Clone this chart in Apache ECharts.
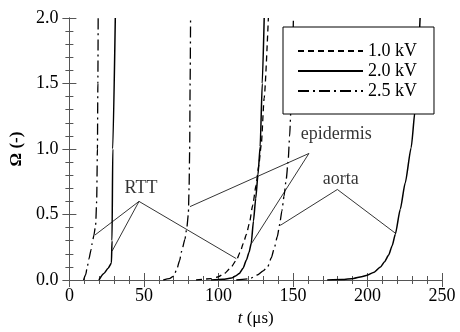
<!DOCTYPE html>
<html>
<head>
<meta charset="utf-8">
<script src="https://cdn.jsdelivr.net/npm/echarts@6/dist/echarts.min.js"></script>
<style>
  html, body { margin: 0; padding: 0; background: #fff; }
  #chart { width: 460px; height: 332px; }
</style>
</head>
<body>
<div id="chart"></div>
<script>
// x ticks and y ticks
const tTicks = [0, 50, 100, 150, 200, 250]
const omegaTicks = [0.0, 0.5, 1.0, 1.5, 2.0]

const voltages = ['1.0 kV', '2.0 kV', '2.5 kV']

// [t (us), omega]
const rtt25 = [[9.5, 0], [10.9, 0.04], [12, 0.1], [13.1, 0.16], [14.5, 0.23], [15.3, 0.28], [16.4, 0.34], [17.6, 0.42], [18.3, 0.6], [18.8, 1.0], [19.1, 1.5], [19.3, 2.0]]
const rtt20 = [[19.8, 0], [23.1, 0.05], [26, 0.09], [28.2, 0.13], [28.6, 0.3], [29.1, 1.0], [30.8, 2.0]]
const rtt10 = [[85, 0], [95, 0.01], [100, 0.025], [104, 0.05], [108, 0.09], [112, 0.15], [114.5, 0.21], [116.7, 0.28], [118.8, 0.35], [120.7, 0.43], [123, 0.57], [125.2, 0.72], [127, 0.87], [128.7, 1.03], [130.7, 1.39], [133.5, 2.0]]
const epi25 = [[63, 0], [67, 0.01], [70, 0.03], [72, 0.08], [74, 0.15], [75.3, 0.22], [77.5, 0.31], [78.7, 0.39], [79.8, 0.5], [80.3, 0.7], [80.7, 1.0], [81, 1.5], [81.3, 2.0]]
const epi20 = [[95, 0], [103, 0.005], [108.7, 0.015], [111.5, 0.03], [114, 0.05], [116.5, 0.09], [118.7, 0.15], [120.5, 0.21], [122, 0.28], [123.5, 0.45], [125, 0.62], [126.5, 0.8], [128, 1.02], [129.4, 1.5], [130.7, 2.0]]
const aorta25 = [[112, 0], [121, 0.01], [126.5, 0.04], [130, 0.07], [133, 0.1], [135.5, 0.17], [137.6, 0.25], [139.5, 0.33], [141, 0.42], [142.6, 0.53], [144, 0.64], [145.5, 0.77], [146.7, 0.9], [147.8, 1.1], [148.6, 1.3], [149.5, 1.6], [150.3, 2.0]]
const aorta20 = [[173, 0], [183, 0.003], [190.7, 0.012], [196, 0.025], [199.8, 0.037], [204.5, 0.06], [208.7, 0.1], [211.5, 0.14], [214.2, 0.19], [216.5, 0.26], [218.7, 0.35], [222, 0.54], [225.3, 0.74], [229.3, 1.01], [232, 1.3], [235.3, 2.0]]

// annotation labels and pointer lines (data coords)
const labels = [
  { name: 'RTT', value: [48, 0.70] },
  { name: 'epidermis', value: [179, 1.11] },
  { name: 'aorta', value: [182, 0.77] }
]
const pointers = [
  [[46.7, 0.6], [17, 0.342]],
  [[46.7, 0.6], [28.7, 0.222]],
  [[46.7, 0.6], [112, 0.163]],
  [[160.7, 0.966], [80.9, 0.56]],
  [[160.7, 0.966], [122, 0.275]],
  [[179.8, 0.691], [141.5, 0.417]],
  [[179.8, 0.691], [219.1, 0.354]]
]

const font = 'Liberation Serif'
const axisColor = '#555'

const chart = echarts.init(document.getElementById('chart'))

const styles = {
  '1.0 kV': { type: [6, 4], width: 1.3 },
  '2.0 kV': { type: 'solid', width: 1.5 },
  '2.5 kV': { type: [11, 4, 2, 4], width: 1.3 }
}

const curve = (name, data) => ({
  name,
  type: 'line',
  data,
  symbol: 'none',
  smooth: 0.2,
  smoothMonotone: 'x',
  lineStyle: { color: '#000', ...styles[name] },
  itemStyle: { color: '#000' },
  z: 2
})

const frameAxis = {
  min: 0,
  axisLine: { show: true, lineStyle: { color: axisColor, width: 1 } },
  axisTick: { show: true, inside: true, length: 7, lineStyle: { color: axisColor } },
  minorTick: { show: true, splitNumber: 5, length: 4, lineStyle: { color: axisColor } },
  splitLine: { show: false },
  axisLabel: { show: false }
}

const options = {
  animation: false,
  textStyle: { fontFamily: font },
  grid: { left: 67, right: 18, top: 18, bottom: 47 },
  legend: {
    data: voltages,
    orient: 'vertical',
    left: 283,
    top: 27,
    padding: [15, 17, 14, 14],
    itemWidth: 65,
    itemHeight: 14,
    itemGap: 2,
    itemStyle: { opacity: 0 },
    backgroundColor: '#fff',
    borderColor: '#000',
    borderWidth: 1,
    borderRadius: 0,
    textStyle: { fontFamily: font, fontSize: 18, color: '#000', lineHeight: 18 }
  },
  xAxis: [
    {
      ...frameAxis,
      type: 'value',
      max: 250,
      interval: 50,
      position: 'bottom',
      axisLabel: { show: true, color: '#000', fontSize: 18, fontFamily: font, margin: 7 },
      name: '{i|t} (μs)',
      nameLocation: 'middle',
      nameGap: 30,
      nameTextStyle: {
        fontFamily: font, fontSize: 17, color: '#000',
        rich: { i: { fontStyle: 'italic', fontFamily: font, fontSize: 17 } }
      }
    },
    { ...frameAxis, type: 'value', max: 250, interval: 50, position: 'top' }
  ],
  yAxis: [
    {
      ...frameAxis,
      type: 'value',
      max: 2,
      interval: 0.5,
      position: 'left',
      axisLabel: {
        show: true, color: '#000', fontSize: 18, fontFamily: font, margin: 11,
        formatter: v => v.toFixed(1)
      },
      name: 'Ω (-)',
      nameLocation: 'middle',
      nameGap: 40,
      nameTextStyle: { fontFamily: font, fontSize: 17, fontWeight: 'bold', color: '#000' }
    },
    { ...frameAxis, type: 'value', max: 2, interval: 0.5, position: 'right' }
  ],
  series: [
    curve('2.5 kV', rtt25),
    curve('2.0 kV', rtt20),
    curve('1.0 kV', rtt10),
    curve('2.5 kV', epi25),
    curve('2.0 kV', epi20),
    curve('2.5 kV', aorta25),
    curve('2.0 kV', aorta20),
    {
      name: 'annotations',
      type: 'scatter',
      data: labels,
      symbolSize: 0,
      silent: true,
      label: {
        show: true,
        position: 'inside',
        formatter: '{b}',
        color: '#000',
        fontFamily: font,
        fontSize: 18
      },
      markLine: {
        silent: true,
        symbol: ['none', 'none'],
        animation: false,
        label: { show: false },
        lineStyle: { color: '#000', width: 0.8, type: 'solid' },
        emphasis: { disabled: true },
        data: pointers.map(([a, b]) => [{ coord: a }, { coord: b }])
      }
    }
  ]
}

chart.setOption(options)
</script>
</body>
</html>
